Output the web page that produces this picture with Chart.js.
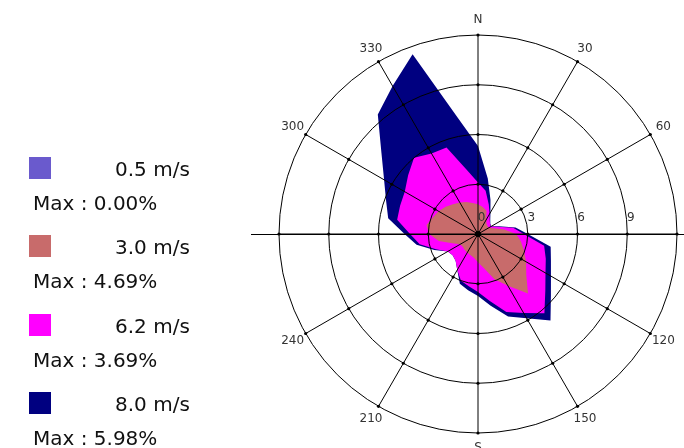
<!DOCTYPE html>
<html>
<head>
<meta charset="utf-8">
<title>Wind rose</title>
<script src="https://cdn.jsdelivr.net/npm/chart.js@4.4.1/dist/chart.umd.min.js"></script>
<style>
    html, body { margin: 0; padding: 0; background: #fff; }
    #wrap { position: relative; width: 684px; height: 448px; overflow: hidden; }
    #roseChart { position: absolute; left: 0; top: 0; }
    .legend-item { position: absolute; left: 0; width: 250px; height: 70px;
        font-family: "DejaVu Sans", sans-serif; font-size: 20px; color: #111; }
    .swatch { position: absolute; left: 29px; top: 0; width: 22px; height: 22px; }
    .speed { position: absolute; left: 115px; top: 0; height: 24px; line-height: 24px; white-space: nowrap; }
    .max { position: absolute; left: 33px; top: 34px; height: 24px; line-height: 24px; white-space: nowrap; }
</style>
</head>
<body>
<div id="wrap">
    <canvas id="roseChart" width="684" height="448"></canvas>
    <div id="legend"></div>
</div>
<script>
// directions (degrees from north, clockwise)
const directions = [0, 10, 20, 30, 40, 50, 60, 70, 80, 90, 100, 110,
    120, 130, 140, 150, 160, 170, 180, 190, 200, 210, 220, 230,
    240, 250, 260, 270, 280, 290, 300, 310, 320, 330, 340, 350];

const speedClasses = ['0.5 m/s', '3.0 m/s', '6.2 m/s', '8.0 m/s'];
const maxPercents = ['0.00', '4.69', '3.69', '5.98'];

// frequency (%) of each speed class per direction
const freq05 = [0, 0, 0, 0, 0, 0, 0, 0, 0, 0, 0, 0,
    0, 0, 0, 0, 0, 0, 0, 0, 0, 0, 0, 0,
    0, 0, 0, 0, 0, 0, 0, 0, 0, 0, 0, 0];
const freq30 = [1.8, 1.65, 1.5, 1.0, 0.8, 0.75, 0.75, 1.0, 1.6, 2.3, 2.63, 2.95,
    3.35, 3.8, 4.69, 3.6, 2.9, 2.1, 1.7, 1.45, 1.35, 1.3, 1.25, 1.2,
    1.25, 1.65, 2.4, 2.95, 3.15, 2.9, 2.75, 2.55, 2.35, 2.2, 2.05, 1.9];
const freq62 = [1.3, 1.0, 0.4, 0.4, 0.3, 0.2, 0.15, 0.3, 0.55, 0.46, 1.42, 1.4,
    1.35, 1.5, 1.54, 1.9, 2.1, 2.0, 1.8, 1.75, 1.65, 1.2, 0.85, 0.8,
    0.85, 1.05, 1.17, 1.15, 1.8, 2.1, 2.35, 2.95, 3.65, 3.4, 3.5, 2.03];
const freq80 = [2.2, 0.75, 0.3, 0.1, 0.05, 0.02, 0.02, 0.05, 0.15, 0.24, 0.4, 0.33,
    0.38, 0.44, 0.57, 0.37, 0.3, 0.3, 0.24, 0.25, 0.2, 0, 0, 0,
    0, 0.1, 0.19, 0.33, 0.55, 0.9, 1.44, 2.1, 3.4, 4.7, 5.98, 3.22];

const ringTicks = [0, 3, 6, 9];
const spokeLabels = ['N', '30', '60', '', '120', '150', 'S', '210', '240', '', '300', '330'];

const classColors = ['#6a5acd', '#c86b6b', '#ff00ff', '#000080'];

document.addEventListener('DOMContentLoaded', function () {
    buildLegend();
    renderRose();
});

function buildLegend() {
    const box = document.getElementById('legend');
    speedClasses.forEach((name, i) => {
        const item = document.createElement('div');
        item.className = 'legend-item';
        item.style.top = (157 + i * 78.3) + 'px';
        item.innerHTML = '<div class="swatch" style="background:' + classColors[i] + '"></div>' +
            '<div class="speed">' + name + '</div>' +
            '<div class="max">Max : ' + maxPercents[i] + '%</div>';
        box.appendChild(item);
    });
}

// stacked radii: each class sits on top of the slower ones
function stackBands(bands) {
    let running = bands[0].map(() => 0);
    return bands.map(band => {
        running = running.map((v, i) => v + band[i]);
        return running.slice();
    });
}

const roseOverlay = {
    id: 'roseOverlay',
    afterDraw(chart) {
        const ctx = chart.ctx;
        const scale = chart.scales.r;
        const cx = scale.xCenter;
        const cy = scale.yCenter;
        const n = directions.length;
        const step = n / 12;

        ctx.save();
        ctx.strokeStyle = '#000';
        ctx.fillStyle = '#000';
        ctx.lineWidth = 1;

        // east-west axis runs past the outer ring
        const west = scale.getPointPosition(n * 3 / 4, scale.drawingArea + 28);
        ctx.beginPath();
        ctx.moveTo(west.x, Math.round(cy) + 0.5);
        ctx.lineTo(chart.width, Math.round(cy) + 0.5);
        ctx.stroke();

        // small ticks where spokes cross the rings
        for (let i = 0; i < n; i += step) {
            [3, 6, 9, 12].forEach(v => {
                const p = scale.getPointPositionForValue(i, v);
                ctx.beginPath();
                ctx.arc(p.x, p.y, 1.6, 0, Math.PI * 2);
                ctx.fill();
            });
        }

        ctx.beginPath();
        ctx.arc(cx, cy, 3, 0, Math.PI * 2);
        ctx.fill();

        // compass labels
        ctx.font = '12px "DejaVu Sans", sans-serif';
        ctx.fillStyle = '#333';
        ctx.textAlign = 'center';
        ctx.textBaseline = 'middle';
        for (let k = 0; k < 12; k++) {
            if (!spokeLabels[k]) continue;
            const p = scale.getPointPosition(k * step, scale.drawingArea + 15);
            ctx.fillText(spokeLabels[k], p.x, p.y);
        }

        // ring values along the east axis
        ringTicks.forEach(v => {
            const d = scale.getDistanceFromCenterForValue(v);
            ctx.fillText(String(v), cx + d + 3.5, cy - 16);
        });
        ctx.restore();
    }
};

function renderRose() {
    const stacked = stackBands([freq05, freq30, freq62, freq80]);
    // fastest class goes last so it is painted underneath
    const datasets = stacked.map((radii, i) => ({
        label: speedClasses[i],
        data: radii,
        backgroundColor: classColors[i],
        borderWidth: 0,
        pointRadius: 0,
        pointHoverRadius: 0,
        fill: 'origin'
    }));

    const ctx = document.getElementById('roseChart').getContext('2d');
    new Chart(ctx, {
        type: 'radar',
        data: {
            labels: directions,
            datasets: datasets
        },
        options: {
            responsive: false,
            animation: false,
            layout: {
                padding: { left: 279, top: 35, right: 7, bottom: 15 }
            },
            elements: {
                line: { tension: 0 }
            },
            plugins: {
                legend: { display: false },
                tooltip: { enabled: false }
            },
            scales: {
                r: {
                    min: 0,
                    max: 12,
                    ticks: { stepSize: 3, display: false },
                    pointLabels: { display: false },
                    grid: {
                        circular: true,
                        color: '#000',
                        lineWidth: 1,
                        z: 1
                    },
                    angleLines: {
                        display: true,
                        color: '#000',
                        lineWidth: function (context) {
                            return context.index % 3 === 0 ? 1 : 0;
                        }
                    }
                }
            }
        },
        plugins: [roseOverlay]
    });
}
</script>
</body>
</html>
